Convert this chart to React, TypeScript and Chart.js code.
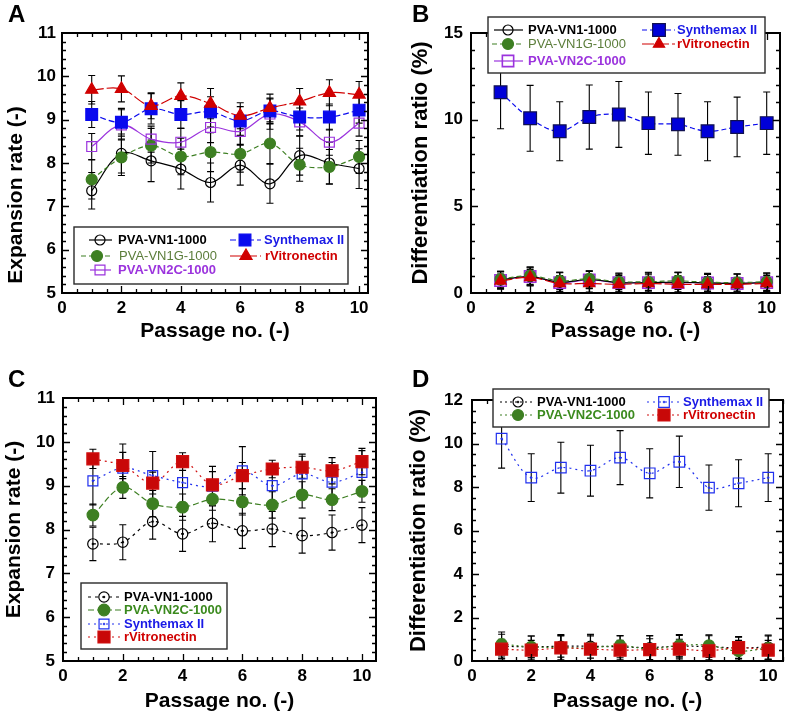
import React, { useEffect, useRef } from 'react';
import { Chart, registerables } from 'chart.js';

Chart.register(...registerables);

const FONT = "Arial, 'Liberation Sans', Helvetica, sans-serif";

// ---------- shared ----------
const passages = [1, 2, 3, 4, 5, 6, 7, 8, 9, 10];
const xTitle = 'Passage no. (-)';
const expTitle = 'Expansion rate (-)';
const diffTitle = 'Differentiation ratio (%)';

// ---------- Panel A : expansion rate ----------
const aVN1 = [7.36, 8.22, 8.05, 7.86, 7.55, 7.95, 7.52, 8.17, 8.0, 7.87];
const aVN1Err = [0.42, 0.45, 0.48, 0.46, 0.45, 0.46, 0.45, 0.45, 0.48, 0.46];
const aVN1G = [7.62, 8.13, 8.4, 8.15, 8.25, 8.21, 8.45, 7.96, 7.91, 8.14];
const aVN1GErr = [0.45, 0.42, 0.4, 0.42, 0.45, 0.42, 0.46, 0.38, 0.4, 0.38];
const aVN2C = [8.38, 8.88, 8.55, 8.48, 8.82, 8.73, 9.13, 8.95, 8.48, 8.92];
const aVN2CErr = [0.3, 0.35, 0.3, 0.32, 0.35, 0.3, 0.35, 0.32, 0.3, 0.3];
const aSyn = [9.12, 8.94, 9.25, 9.12, 9.18, 8.97, 9.2, 9.06, 9.06, 9.22];
const aSynErr = [0.3, 0.32, 0.35, 0.32, 0.35, 0.33, 0.3, 0.3, 0.3, 0.3];
const aRvn = [9.69, 9.71, 9.32, 9.55, 9.37, 9.09, 9.27, 9.42, 9.62, 9.58];
const aRvnErr = [0.33, 0.3, 0.3, 0.3, 0.35, 0.3, 0.32, 0.3, 0.3, 0.3];

// ---------- Panel B : differentiation ratio ----------
const bVN1 = [0.75, 0.95, 0.62, 0.78, 0.6, 0.6, 0.62, 0.58, 0.55, 0.6];
const bVN1Err = [0.5, 0.55, 0.55, 0.5, 0.5, 0.55, 0.55, 0.5, 0.55, 0.55];
const bVN1G = [0.8, 1.0, 0.7, 0.82, 0.65, 0.65, 0.7, 0.62, 0.6, 0.65];
const bVN1GErr = [0.45, 0.5, 0.5, 0.45, 0.45, 0.5, 0.5, 0.45, 0.5, 0.5];
const bVN2C = [0.72, 0.95, 0.6, 0.75, 0.6, 0.6, 0.6, 0.58, 0.55, 0.6];
const bVN2CErr = [0.5, 0.5, 0.6, 0.5, 0.55, 0.6, 0.6, 0.55, 0.55, 0.5];
const bSyn = [11.58, 10.08, 9.33, 10.15, 10.3, 9.8, 9.73, 9.33, 9.58, 9.8];
const bSynErr = [2.1, 1.9, 1.7, 1.85, 1.9, 1.8, 1.78, 1.7, 1.72, 1.8];
const bRvn = [0.7, 0.9, 0.55, 0.55, 0.5, 0.55, 0.5, 0.5, 0.5, 0.55];
const bRvnErr = [0.4, 0.45, 0.45, 0.5, 0.5, 0.5, 0.5, 0.45, 0.4, 0.45];

// ---------- Panel C : expansion rate ----------
const cVN1 = [7.67, 7.71, 8.18, 7.9, 8.14, 7.97, 8.01, 7.86, 7.93, 8.1];
const cVN1Err = [0.38, 0.4, 0.4, 0.4, 0.42, 0.4, 0.4, 0.4, 0.4, 0.4];
const cVN2C = [8.33, 8.96, 8.59, 8.51, 8.69, 8.63, 8.56, 8.79, 8.68, 8.87];
const cVN2CErr = [0.25, 0.25, 0.3, 0.3, 0.25, 0.3, 0.3, 0.3, 0.25, 0.25];
const cSyn = [9.11, 9.4, 9.23, 9.07, 8.99, 9.34, 9.0, 9.27, 9.08, 9.3];
const cSynErr = [0.55, 0.55, 0.55, 0.45, 0.45, 0.55, 0.5, 0.45, 0.45, 0.5];
const cRvn = [9.61, 9.46, 9.06, 9.55, 9.02, 9.23, 9.38, 9.42, 9.34, 9.55];
const cRvnErr = [0.22, 0.3, 0.25, 0.2, 0.3, 0.3, 0.2, 0.25, 0.3, 0.3];

// ---------- Panel D : differentiation ratio ----------
const dVN1 = [0.68, 0.65, 0.68, 0.68, 0.65, 0.62, 0.68, 0.66, 0.6, 0.64];
const dVN1Err = [0.55, 0.5, 0.5, 0.55, 0.5, 0.55, 0.5, 0.5, 0.5, 0.55];
const dVN2C = [0.78, 0.65, 0.62, 0.6, 0.72, 0.55, 0.72, 0.72, 0.45, 0.6];
const dVN2CErr = [0.55, 0.5, 0.6, 0.6, 0.45, 0.6, 0.5, 0.48, 0.5, 0.55];
const dSyn = [10.22, 8.43, 8.89, 8.75, 9.35, 8.63, 9.16, 7.97, 8.17, 8.43];
const dSynErr = [1.35, 1.1, 1.17, 1.17, 1.24, 1.13, 1.18, 1.04, 1.08, 1.1];
const dRvn = [0.55, 0.5, 0.6, 0.55, 0.5, 0.52, 0.55, 0.47, 0.62, 0.5];
const dRvnErr = [0.45, 0.45, 0.55, 0.6, 0.45, 0.5, 0.45, 0.42, 0.5, 0.45];

// ---------- colours ----------
const BLACK = '#000000';
const GREEN = '#3d7f22';
const GREEN_TXT_AB = '#5b7d3a';
const GREEN_TXT_CD = '#3b8a1e';
const PURPLE = '#9b33dd';
const BLUE = '#0a0aee';
const BLUE_TXT = '#1a1ae6';
const RED = '#d00000';
const NONE = 'rgba(0,0,0,0)';

// ---------- helpers ----------
function drawMarker(ctx: any, style: string, r: number, x: number, y: number, fill: string, stroke: string, lw: number) {
  ctx.save();
  ctx.setLineDash([]);
  ctx.beginPath();
  if (style === 'circle') {
    ctx.arc(x, y, r, 0, Math.PI * 2);
  } else if (style === 'rect') {
    const s = r * Math.SQRT1_2;
    ctx.rect(x - s, y - s, 2 * s, 2 * s);
  } else if (style === 'triangle') {
    for (let k = 0; k < 3; k++) {
      const ang = (k * 2 * Math.PI) / 3;
      const px = x + Math.sin(ang) * r;
      const py = y - Math.cos(ang) * r;
      if (k === 0) ctx.moveTo(px, py);
      else ctx.lineTo(px, py);
    }
    ctx.closePath();
  }
  ctx.fillStyle = fill;
  ctx.fill();
  ctx.lineWidth = lw;
  ctx.strokeStyle = stroke;
  ctx.stroke();
  ctx.restore();
}

function series(opts: any) {
  return opts;
}

function buildDatasets(list: any[]) {
  const out: any[] = [];
  list.forEach((s) => {
    out.push({
      label: s.label,
      data: passages.map((p, i) => ({ x: p, y: s.values[i] })),
      errorBars: s.errors,
      borderColor: s.color,
      borderWidth: s.lw ?? 1.2,
      borderDash: s.dash,
      pointStyle: s.style,
      pointRadius: s.r,
      pointHoverRadius: s.r,
      pointBackgroundColor: s.fill,
      pointBorderColor: s.stroke ?? s.color,
      pointBorderWidth: s.pbw ?? 1.2,
      tension: 0.35,
      fill: false,
      order: s.order,
      legendText: s.text,
      legendBold: s.bold,
      legendDot: s.dot,
    });
    if (s.dot) {
      out.push({
        label: s.label + ' centre',
        data: passages.map((p, i) => ({ x: p, y: s.values[i] })),
        showLine: false,
        pointStyle: 'circle',
        pointRadius: 1,
        pointHoverRadius: 1,
        pointBackgroundColor: s.stroke ?? s.color,
        pointBorderColor: s.stroke ?? s.color,
        pointBorderWidth: 0.5,
        order: s.order - 0.5,
      });
    }
  });
  return out;
}

const errorBarsPlugin = {
  id: 'errorBars',
  beforeDatasetsDraw(chart: any) {
    const { ctx, chartArea: a, scales } = chart;
    const xs = scales.x;
    const ys = scales.y;
    ctx.save();
    ctx.beginPath();
    ctx.rect(a.left, a.top, a.right - a.left, a.bottom - a.top);
    ctx.clip();
    ctx.strokeStyle = '#000';
    ctx.lineWidth = 1.1;
    ctx.setLineDash([]);
    chart.data.datasets.forEach((d: any) => {
      if (!d.errorBars) return;
      d.data.forEach((pt: any, i: number) => {
        const e = d.errorBars[i];
        const px = xs.getPixelForValue(pt.x);
        const y1 = ys.getPixelForValue(pt.y + e);
        const y2 = ys.getPixelForValue(pt.y - e);
        ctx.beginPath();
        ctx.moveTo(px, y1);
        ctx.lineTo(px, y2);
        ctx.moveTo(px - 3.5, y1);
        ctx.lineTo(px + 3.5, y1);
        ctx.moveTo(px - 3.5, y2);
        ctx.lineTo(px + 3.5, y2);
        ctx.stroke();
      });
    });
    ctx.restore();
  },
};

function framePlugin(cfg: any) {
  return {
    id: 'frameTicks',
    afterDatasetsDraw(chart: any) {
      const { ctx, chartArea: a, scales } = chart;
      const xs = scales.x;
      const ys = scales.y;
      ctx.save();
      ctx.setLineDash([]);
      ctx.strokeStyle = '#000';
      ctx.lineWidth = 1.3;
      const nx = Math.floor((xs.max - xs.min) / cfg.xMinor + 1e-6);
      const xr = Math.round(cfg.xMajor / cfg.xMinor);
      for (let i = 1; i <= nx; i++) {
        const v = xs.min + i * cfg.xMinor;
        const len = i % xr === 0 ? 7 : 4;
        const px = Math.round(xs.getPixelForValue(v)) + 0.5;
        ctx.beginPath();
        ctx.moveTo(px, a.bottom);
        ctx.lineTo(px, a.bottom - len);
        ctx.moveTo(px, a.top);
        ctx.lineTo(px, a.top + len);
        ctx.stroke();
      }
      const ny = Math.round((ys.max - ys.min) / cfg.yMinor);
      const yr = Math.round(cfg.yStep / cfg.yMinor);
      for (let i = 1; i < ny; i++) {
        const v = ys.min + i * cfg.yMinor;
        const len = i % yr === 0 ? 7 : 4;
        const py = Math.round(ys.getPixelForValue(v)) + 0.5;
        ctx.beginPath();
        ctx.moveTo(a.left, py);
        ctx.lineTo(a.left + len, py);
        ctx.moveTo(a.right, py);
        ctx.lineTo(a.right - len, py);
        ctx.stroke();
      }
      ctx.lineWidth = 2;
      ctx.strokeRect(a.left, a.top, a.right - a.left, a.bottom - a.top);
      ctx.restore();
    },
  };
}

function legendPlugin(cfg: any) {
  return {
    id: 'boxLegend',
    afterDraw(chart: any) {
      const lg = cfg.legend;
      const ctx = chart.ctx;
      const [l, t, r, b] = lg.box;
      ctx.save();
      ctx.fillStyle = '#ffffff';
      ctx.fillRect(l, t, r - l, b - t);
      ctx.strokeStyle = '#2a2a2a';
      ctx.lineWidth = 1.4;
      ctx.strokeRect(l, t, r - l, b - t);
      lg.items.forEach((it: any) => {
        const d = chart.data.datasets.find((ds: any) => ds.label === it.label);
        ctx.beginPath();
        ctx.setLineDash(d.borderDash || []);
        ctx.strokeStyle = d.borderColor;
        ctx.lineWidth = d.borderWidth;
        ctx.moveTo(it.x1, it.y);
        ctx.lineTo(it.x2, it.y);
        ctx.stroke();
        ctx.setLineDash([]);
        drawMarker(ctx, d.pointStyle, d.pointRadius, it.mx, it.y, d.pointBackgroundColor, d.pointBorderColor, d.pointBorderWidth);
        if (d.legendDot) {
          drawMarker(ctx, 'circle', 1, it.mx, it.y, d.pointBorderColor, d.pointBorderColor, 0.5);
        }
        ctx.fillStyle = d.legendText;
        ctx.font = `${d.legendBold ? 'bold ' : ''}13px ${FONT}`;
        ctx.textBaseline = 'middle';
        ctx.textAlign = 'left';
        ctx.fillText(d.label, it.tx, it.y + 0.5);
      });
      ctx.restore();
    },
  };
}

function letterPlugin(cfg: any) {
  return {
    id: 'panelLetter',
    afterDraw(chart: any) {
      const ctx = chart.ctx;
      ctx.save();
      ctx.fillStyle = '#000';
      ctx.font = `bold 24px ${FONT}`;
      ctx.textBaseline = 'alphabetic';
      ctx.textAlign = 'left';
      ctx.fillText(cfg.letter, cfg.letterX, cfg.letterY);
      if (cfg.yTitleAt) {
        // axis title placed off-centre, as in the reference panel
        ctx.translate(cfg.yTitleAt[0], cfg.yTitleAt[1]);
        ctx.rotate(-Math.PI / 2);
        ctx.font = `bold ${cfg.yTitleSize}px ${FONT}`;
        ctx.textAlign = 'center';
        ctx.textBaseline = 'middle';
        ctx.fillText(cfg.yTitle, 0, 0);
      }
      ctx.restore();
    },
  };
}

function buildConfig(cfg: any) {
  return {
    type: 'line',
    data: { datasets: buildDatasets(cfg.series) },
    options: {
      responsive: false,
      animation: false,
      devicePixelRatio: 1,
      events: [],
      layout: {
        autoPadding: false,
        padding: { left: cfg.padL, right: cfg.padR, top: cfg.padT, bottom: 0 },
      },
      plugins: { legend: { display: false }, tooltip: { enabled: false }, title: { display: false } },
      scales: {
        x: {
          type: 'linear',
          position: 'bottom',
          min: 0,
          max: cfg.xMax,
          afterFit: (s: any) => {
            s.height = cfg.xH;
          },
          grid: { display: false, drawTicks: false },
          border: { display: false },
          ticks: {
            stepSize: cfg.xMajor,
            includeBounds: false,
            autoSkip: false,
            maxRotation: 0,
            color: '#000',
            padding: 5,
            font: { family: FONT, size: 17, weight: 'bold' },
          },
          title: {
            display: true,
            text: xTitle,
            color: '#000',
            font: { family: FONT, size: 21, weight: 'bold' },
            padding: { top: 0, bottom: cfg.xTitlePad },
          },
        },
        y: {
          type: 'linear',
          position: 'left',
          min: cfg.yMin,
          max: cfg.yMax,
          afterFit: (s: any) => {
            s.width = cfg.yW;
          },
          grid: { display: false, drawTicks: false },
          border: { display: false },
          ticks: {
            stepSize: cfg.yStep,
            includeBounds: false,
            autoSkip: false,
            color: '#000',
            padding: cfg.yPad,
            font: { family: FONT, size: 17, weight: 'bold' },
          },
          title: {
            display: !cfg.yTitleAt,
            text: cfg.yTitle,
            color: '#000',
            font: { family: FONT, size: cfg.yTitleSize, weight: 'bold' },
            padding: { top: cfg.yTitlePad, bottom: 0 },
          },
        },
      },
    },
    plugins: [errorBarsPlugin, framePlugin(cfg), legendPlugin(cfg), letterPlugin(cfg)],
  };
}

// ---------- panel definitions ----------
const panelA = {
  left: 0, top: 0, w: 390, h: 345,
  padL: 0, padR: 22, padT: 33, yW: 62, xH: 52, xTitlePad: 1,
  xMax: 10.3, xMajor: 2, xMinor: 0.5,
  yMin: 5, yMax: 11, yStep: 1, yMinor: 0.2, yPad: 6,
  yTitle: expTitle, yTitleSize: 21, yTitlePad: 3, yTitleAt: [16, 195],
  letter: 'A', letterX: 8, letterY: 22,
  series: [
    series({ label: 'PVA-VN1-1000', values: aVN1, errors: aVN1Err, color: BLACK, fill: NONE, style: 'circle', r: 5, dash: [], order: 4, text: BLACK, bold: true }),
    series({ label: 'PVA-VN1G-1000', values: aVN1G, errors: aVN1GErr, color: GREEN, fill: GREEN, style: 'circle', r: 5.5, dash: [5, 3], order: 3, text: GREEN_TXT_AB, bold: false }),
    series({ label: 'PVA-VN2C-1000', values: aVN2C, errors: aVN2CErr, color: PURPLE, fill: NONE, style: 'rect', r: 7, dash: [], order: 2, text: PURPLE, bold: true }),
    series({ label: 'Synthemax II', values: aSyn, errors: aSynErr, color: BLUE, fill: BLUE, style: 'rect', r: 8.3, dash: [6, 3], order: 1, text: BLUE_TXT, bold: true }),
    series({ label: 'rVitronectin', values: aRvn, errors: aRvnErr, color: RED, fill: RED, style: 'triangle', r: 7, dash: [12, 3], order: 0, text: RED, bold: true }),
  ],
  legend: {
    box: [74, 227, 348, 284],
    items: [
      { label: 'PVA-VN1-1000', x1: 89, x2: 112, mx: 100, tx: 118, y: 240 },
      { label: 'PVA-VN1G-1000', x1: 81, x2: 113, mx: 97, tx: 119, y: 256 },
      { label: 'PVA-VN2C-1000', x1: 90, x2: 111, mx: 100, tx: 118, y: 270 },
      { label: 'Synthemax II', x1: 230, x2: 261, mx: 245, tx: 264, y: 240 },
      { label: 'rVitronectin', x1: 230, x2: 261, mx: 246, tx: 265, y: 256 },
    ],
  },
};

const panelB = {
  left: 390, top: 0, w: 397, h: 345,
  padL: 14, padR: 7, padT: 33, yW: 67, xH: 52, xTitlePad: 1,
  xMax: 10.45, xMajor: 2, xMinor: 0.5,
  yMin: 0, yMax: 15, yStep: 5, yMinor: 1, yPad: 8,
  yTitle: diffTitle, yTitleSize: 22, yTitlePad: 4,
  letter: 'B', letterX: 22, letterY: 22,
  series: [
    series({ label: 'PVA-VN1-1000', values: bVN1, errors: bVN1Err, color: BLACK, fill: NONE, style: 'circle', r: 5, dash: [], order: 2, text: BLACK, bold: true }),
    series({ label: 'PVA-VN1G-1000', values: bVN1G, errors: bVN1GErr, color: GREEN, fill: GREEN, style: 'circle', r: 5.5, dash: [5, 3], order: 1, text: GREEN_TXT_AB, bold: false }),
    series({ label: 'PVA-VN2C-1000', values: bVN2C, errors: bVN2CErr, color: PURPLE, fill: NONE, style: 'rect', r: 8, dash: [], order: 3, text: PURPLE, bold: true, pbw: 1.6 }),
    series({ label: 'Synthemax II', values: bSyn, errors: bSynErr, color: BLUE, fill: '#0000d8', stroke: '#101050', style: 'rect', r: 9, dash: [5, 3], order: 4, text: BLUE_TXT, bold: true }),
    series({ label: 'rVitronectin', values: bRvn, errors: bRvnErr, color: RED, fill: RED, style: 'triangle', r: 6.5, dash: [12, 3], order: 0, text: RED, bold: true }),
  ],
  legend: {
    box: [98, 17, 375, 73],
    items: [
      { label: 'PVA-VN1-1000', x1: 104, x2: 133, mx: 118, tx: 138, y: 30 },
      { label: 'PVA-VN1G-1000', x1: 102, x2: 133, mx: 118, tx: 138, y: 44 },
      { label: 'PVA-VN2C-1000', x1: 104, x2: 133, mx: 118, tx: 138, y: 61 },
      { label: 'Synthemax II', x1: 252, x2: 285, mx: 269, tx: 287, y: 30 },
      { label: 'rVitronectin', x1: 252, x2: 285, mx: 269, tx: 287, y: 44 },
    ],
  },
};

const panelC = {
  left: 0, top: 345, w: 390, h: 373,
  padL: 0, padR: 14, padT: 53, yW: 63, xH: 57, xTitlePad: 4,
  xMax: 10.47, xMajor: 2, xMinor: 0.5,
  yMin: 5, yMax: 11, yStep: 1, yMinor: 0.2, yPad: 8,
  yTitle: expTitle, yTitleSize: 21, yTitlePad: 2,
  letter: 'C', letterX: 8, letterY: 42,
  series: [
    series({ label: 'PVA-VN1-1000', values: cVN1, errors: cVN1Err, color: BLACK, fill: NONE, style: 'circle', r: 5.2, dash: [3, 4], order: 3, text: BLACK, bold: true, dot: true }),
    series({ label: 'PVA-VN2C-1000', values: cVN2C, errors: cVN2CErr, color: GREEN, fill: GREEN, style: 'circle', r: 5.8, dash: [6, 3], order: 2, text: GREEN_TXT_CD, bold: true }),
    series({ label: 'Synthemax II', values: cSyn, errors: cSynErr, color: '#2030ee', fill: NONE, style: 'rect', r: 7, dash: [2, 4], order: 1, text: BLUE_TXT, bold: true, dot: true }),
    series({ label: 'rVitronectin', values: cRvn, errors: cRvnErr, color: '#d01010', fill: '#c80808', style: 'rect', r: 8.5, dash: [2, 4], order: 0, text: RED, bold: true }),
  ],
  legend: {
    box: [81, 238, 227, 304],
    items: [
      { label: 'PVA-VN1-1000', x1: 88, x2: 122, mx: 104, tx: 124, y: 252 },
      { label: 'PVA-VN2C-1000', x1: 88, x2: 122, mx: 104, tx: 124, y: 265 },
      { label: 'Synthemax II', x1: 88, x2: 122, mx: 104, tx: 124, y: 279 },
      { label: 'rVitronectin', x1: 88, x2: 122, mx: 104, tx: 124, y: 292 },
    ],
  },
};

const panelD = {
  left: 390, top: 345, w: 397, h: 373,
  padL: 12, padR: 4, padT: 55, yW: 70, xH: 57, xTitlePad: 4,
  xMax: 10.5, xMajor: 2, xMinor: 0.5,
  yMin: 0, yMax: 12, yStep: 2, yMinor: 0.5, yPad: 9,
  yTitle: diffTitle, yTitleSize: 22, yTitlePad: 4,
  letter: 'D', letterX: 22, letterY: 42,
  series: [
    series({ label: 'PVA-VN1-1000', values: dVN1, errors: dVN1Err, color: BLACK, fill: NONE, style: 'circle', r: 5, dash: [2, 3], order: 2, text: BLACK, bold: true, dot: true }),
    series({ label: 'PVA-VN2C-1000', values: dVN2C, errors: dVN2CErr, color: GREEN, fill: GREEN, style: 'circle', r: 5.5, dash: [2, 3], order: 1, text: GREEN_TXT_CD, bold: true }),
    series({ label: 'Synthemax II', values: dSyn, errors: dSynErr, color: '#2030ee', fill: NONE, style: 'rect', r: 7.5, dash: [2, 4], order: 3, text: BLUE_TXT, bold: true, dot: true }),
    series({ label: 'rVitronectin', values: dRvn, errors: dRvnErr, color: '#d01010', fill: '#c80808', style: 'rect', r: 8.5, dash: [2, 3], order: 0, text: RED, bold: true }),
  ],
  legend: {
    box: [103, 44, 379, 82],
    items: [
      { label: 'PVA-VN1-1000', x1: 110, x2: 145, mx: 128, tx: 147, y: 57 },
      { label: 'PVA-VN2C-1000', x1: 110, x2: 145, mx: 128, tx: 147, y: 70 },
      { label: 'Synthemax II', x1: 257, x2: 290, mx: 274, tx: 293, y: 57 },
      { label: 'rVitronectin', x1: 257, x2: 290, mx: 274, tx: 293, y: 70 },
    ],
  },
};

function Panel({ cfg }: { cfg: any }) {
  const ref = useRef<HTMLCanvasElement | null>(null);
  useEffect(() => {
    if (!ref.current) return;
    const chart = new Chart(ref.current, buildConfig(cfg) as any);
    return () => chart.destroy();
  }, [cfg]);
  return (
    <canvas
      ref={ref}
      width={cfg.w}
      height={cfg.h}
      style={{ position: 'absolute', left: cfg.left, top: cfg.top, width: cfg.w, height: cfg.h, display: 'block' }}
    />
  );
}

export default function App() {
  return (
    <div style={{ position: 'absolute', left: 0, top: 0, width: 787, height: 718, background: '#ffffff', overflow: 'hidden' }}>
      <Panel cfg={panelA} />
      <Panel cfg={panelB} />
      <Panel cfg={panelC} />
      <Panel cfg={panelD} />
    </div>
  );
}
